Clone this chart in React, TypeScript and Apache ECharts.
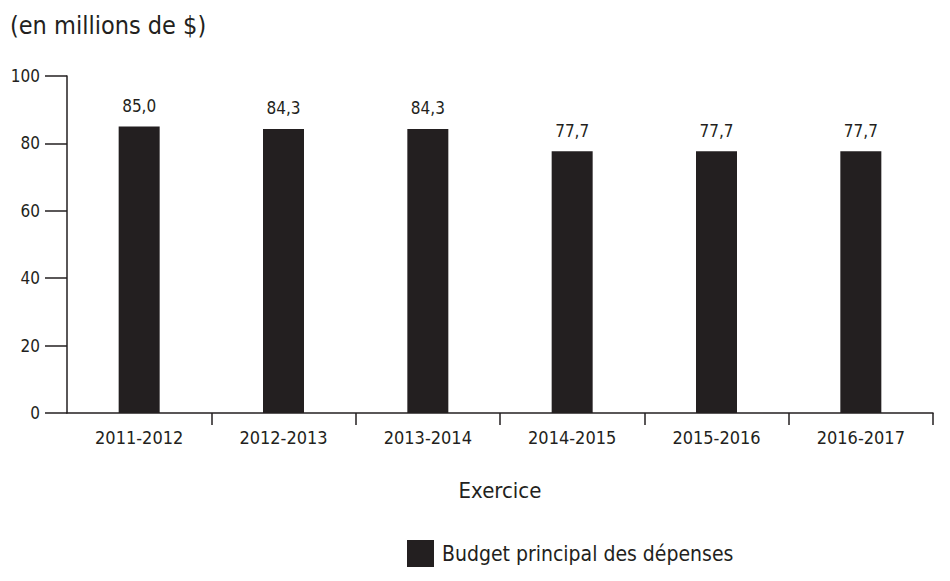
import React, { useEffect, useRef } from "react";
import * as echarts from "echarts";

const categories = ["2011-2012", "2012-2013", "2013-2014", "2014-2015", "2015-2016", "2016-2017"];
const budgetValues = [85.0, 84.3, 84.3, 77.7, 77.7, 77.7];
const seriesName = "Budget principal des dépenses";
const unitTitle = "(en millions de $)";
const xAxisTitle = "Exercice";

const FONT = "'DejaVu Sans Condensed', 'Liberation Sans Narrow', sans-serif";
const INK = "#231f20";

export default function App() {
  const ref = useRef<HTMLDivElement>(null);
  useEffect(() => {
    if (!ref.current) return;
    const chart = echarts.init(ref.current, null, { renderer: "svg" });
    chart.setOption({
      animation: false,
      backgroundColor: "#ffffff",
      textStyle: { fontFamily: FONT, color: INK },
      title: {
        text: unitTitle,
        left: 5,
        top: 8,
        textStyle: { fontFamily: FONT, fontSize: 25, fontWeight: "normal", color: INK },
      },
      legend: {
        data: [seriesName],
        bottom: 9,
        left: 402,
        itemWidth: 27,
        itemHeight: 27,
        itemGap: 10,
        icon: "rect",
        textStyle: { fontFamily: FONT, fontSize: 21, color: INK, padding: [0, 0, 0, 3] },
      },
      grid: { left: 67, right: 17, top: 76, bottom: 168, containLabel: false },
      xAxis: {
        type: "category",
        data: categories,
        name: xAxisTitle,
        nameLocation: "middle",
        nameGap: 66,
        nameTextStyle: { fontFamily: FONT, fontSize: 22, color: INK },
        axisLine: { lineStyle: { color: INK, width: 1.5 } },
        axisTick: {
          show: true,
          length: 12,
          interval: (i: number) => i !== 0,
          lineStyle: { color: INK, width: 1.5 },
        },
        axisLabel: { fontFamily: FONT, fontSize: 18, color: INK, margin: 15 },
      },
      yAxis: {
        type: "value",
        min: 0,
        max: 100,
        interval: 20,
        axisLine: { show: true, lineStyle: { color: INK, width: 1.5 } },
        axisTick: { show: true, length: 22, lineStyle: { color: INK, width: 1.5 } },
        axisLabel: { fontFamily: FONT, fontSize: 17, color: INK, margin: 27 },
        splitLine: { show: false },
      },
      series: [
        {
          name: seriesName,
          type: "bar",
          data: budgetValues,
          barWidth: 41,
          itemStyle: { color: INK },
          label: {
            show: true,
            position: "top",
            distance: 12,
            fontFamily: FONT,
            fontSize: 17,
            color: INK,
            formatter: (p: any) => p.value.toFixed(1).replace(".", ","),
          },
        },
      ],
    });
    return () => chart.dispose();
  }, []);
  return <div ref={ref} style={{ width: 950, height: 581, position: "absolute", left: 0, top: 0 }} />;
}
